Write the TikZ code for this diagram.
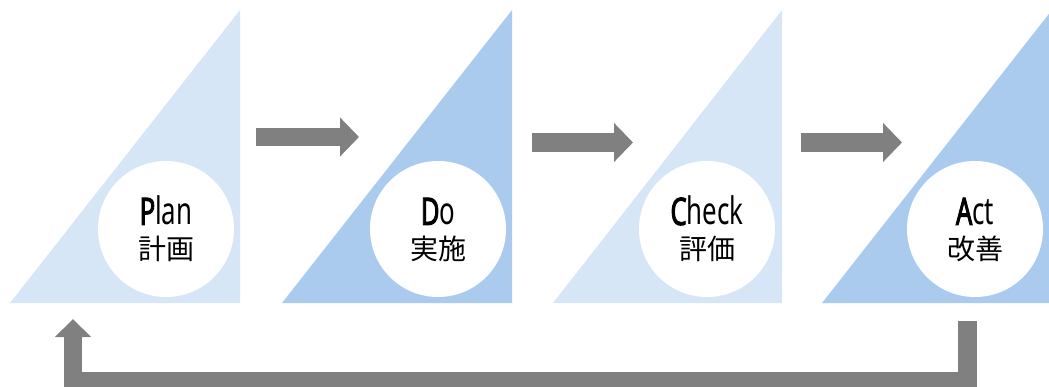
\documentclass[tikz,border=0pt]{standalone}
\usepackage{fontspec}
\usetikzlibrary{arrows.meta}
\newfontfamily\jpfont{Noto Sans CJK JP}
\newfontfamily\latfont[FakeStretch=0.68]{Noto Sans}
\newfontfamily\latboldfont[FakeStretch=0.68,FakeBold=2.2]{Noto Sans}
\definecolor{lightblue}{HTML}{D7E6F6}
\definecolor{darkblue}{HTML}{ABCBEE}
\definecolor{arrowgray}{HTML}{808080}
\begin{document}
\begin{tikzpicture}[x=1pt,y=-1pt,
  stagecircle/.style={circle,fill=white,minimum size=136pt,inner sep=0pt},
  enlabel/.style={anchor=base,inner sep=0pt,font=\latfont\fontsize{38}{38}\selectfont},
  jplabel/.style={anchor=base,inner sep=0pt,font=\jpfont\fontsize{28}{28}\selectfont},
  flowarrow/.style={draw=arrowgray,line width=18.5pt,-{Triangle[length=19pt,width=38pt]}},
  loopline/.style={draw=arrowgray,line width=18.5pt,line join=miter,-{Triangle[length=18pt,width=35pt]}}]
\useasboundingbox (0,0) rectangle (1049,387);
% triangles
\fill[lightblue] (10,303) -- (240,10) -- (240,303) -- cycle;
\fill[darkblue] (282,303) -- (512,10) -- (512,303) -- cycle;
\fill[lightblue] (553,303) -- (782,10) -- (782,303) -- cycle;
\fill[darkblue] (822,303) -- (1052,10) -- (1052,303) -- cycle;
% circles
\node[stagecircle] (plan) at (166,229) {};
\node[stagecircle] (do) at (438,229) {};
\node[stagecircle] (check) at (707,229) {};
\node[stagecircle] (act) at (975,229) {};
% labels
\node[enlabel] (planen) at (166,225) {{\latboldfont P}lan};
\node[jplabel] (planjp) at (166,260) {計画};
\node[enlabel] (doen) at (438,225) {{\latboldfont D}o};
\node[jplabel] (dojp) at (438,260) {実施};
\node[enlabel] (checken) at (707,225) {{\latboldfont C}heck};
\node[jplabel] (checkjp) at (707,260) {評価};
\node[enlabel] (acten) at (975,225) {{\latboldfont A}ct};
\node[jplabel] (actjp) at (975,260) {改善};
% flow arrows
\coordinate (a1s) at (256,137); \coordinate (a1e) at (359,137);
\coordinate (a2s) at (532,142.5); \coordinate (a2e) at (633,142.5);
\coordinate (a3s) at (801,142.5); \coordinate (a3e) at (902,142.5);
\draw[flowarrow] (a1s) -- (a1e);
\draw[flowarrow] (a2s) -- (a2e);
\draw[flowarrow] (a3s) -- (a3e);
% return loop
\coordinate (ls) at (967.3,321);
\coordinate (le) at (73,319);
\draw[loopline] (ls) -- (967.3,381) -- (73,381) -- (le);
\end{tikzpicture}
\end{document}
